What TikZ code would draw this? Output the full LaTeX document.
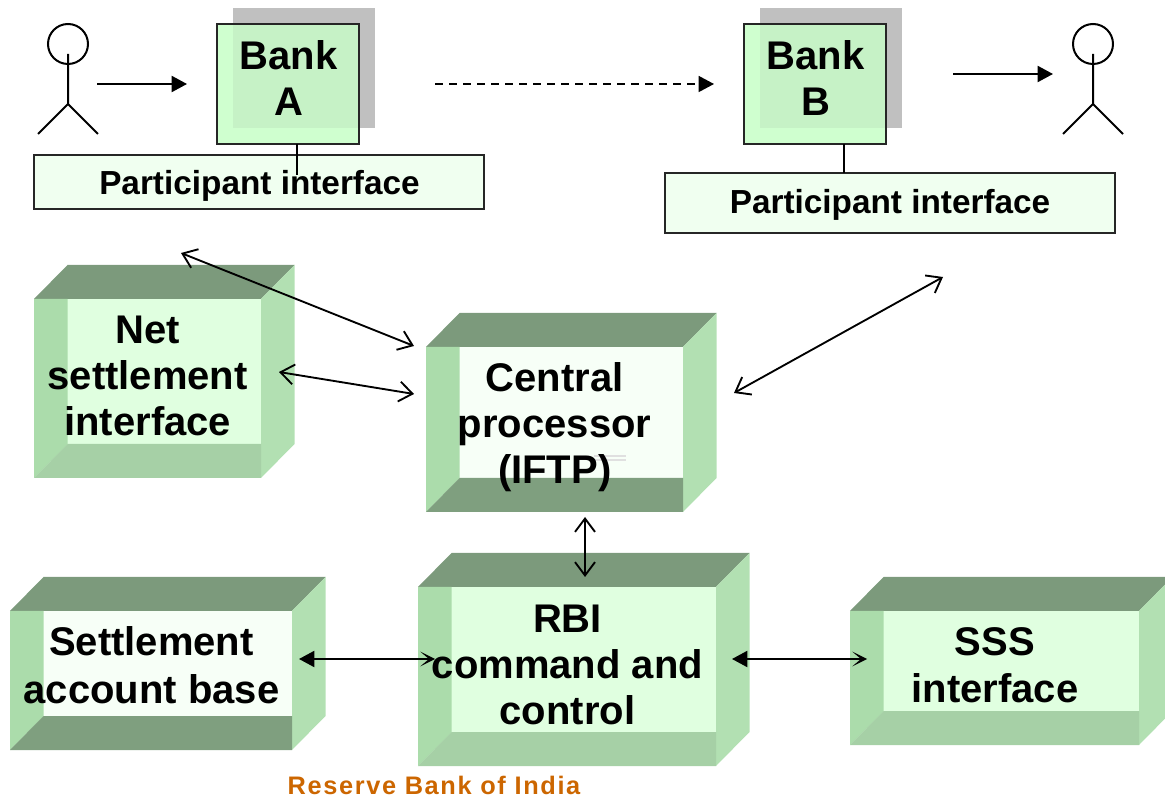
\documentclass[tikz,border=0pt]{standalone}
\usepackage{fontspec}
\setmainfont{Liberation Sans}[BoldFont={* Bold}]
\newfontface\reservefont{Liberation Sans Bold}[LetterSpace=6.5]
\usetikzlibrary{arrows.meta}
\definecolor{topface}{HTML}{7C9A7C}
\definecolor{sideface}{HTML}{B2E0B2}
\definecolor{leftface}{HTML}{ABDCAB}
\definecolor{palefront}{HTML}{F7FFF7}
\definecolor{greenfront}{HTML}{E0FFE0}
\definecolor{darkfloor}{HTML}{7F9F7F}
\definecolor{lightfloor}{HTML}{A6D0A6}
\definecolor{bankfill}{HTML}{CFFFCF}
\definecolor{bankoverlap}{HTML}{C6F2C6}
\definecolor{shadowgrey}{HTML}{C0C0C0}
\definecolor{partfill}{HTML}{F0FFF0}
\definecolor{rbiorange}{HTML}{CC6600}
\tikzset{
  bigtext/.style={font=\fontsize{30}{34.5}\selectfont\bfseries,align=center,inner sep=0pt,text=black},
  midtext/.style={font=\fontsize{25}{28}\selectfont\bfseries,align=center,inner sep=0pt,text=black},
  bankbox/.style={fill=bankfill,minimum width=106.5pt,minimum height=90pt,inner sep=0pt},
  bankoutline/.style={draw=black!85,line width=1.5pt},
  bankshadow/.style={fill=shadowgrey,minimum width=106.5pt,minimum height=90pt,inner sep=0pt},
  partbox/.style={draw=black!85,line width=1.5pt,fill=partfill,inner sep=0pt,minimum width=337.5pt},
  stick/.style={draw=black,line width=1.5pt},
  head/.style={circle,draw=black,line width=1.5pt,minimum size=30pt,inner sep=0pt},
  solidarrow/.style={draw=black,line width=1.5pt,-{Triangle[length=11.5pt,width=12pt]}},
  dasharrow/.style={draw=black,line width=1.1pt,dash pattern=on 6pt off 4.5pt,-{Triangle[length=11.5pt,width=12pt]}},
  openboth/.style={draw=black,line width=1.4pt,{Straight Barb[length=10pt,width=15pt]}-{Straight Barb[length=10pt,width=15pt]}},
  mixedboth/.style={draw=black,line width=1.5pt,{Triangle[length=11.5pt,width=12pt]}-{Stealth[length=11pt,width=11pt,inset=6.5pt]}},
}
% name, x1, y1, x2, y2, front colour, floor colour (depth 33-34 px)
\newcommand{\cuboid}[7]{%
  \fill[topface] (#2,#3) -- (#2+33.5,#3-34) -- (#4+33.5,#3-34) -- (#4,#3) -- cycle;
  \fill[#6] (#2,#3) rectangle (#4,#5);
  \fill[sideface] (#4,#3) -- (#4+33.5,#3-34) -- (#4+33.5,#5-34) -- (#4,#5) -- cycle;
  \fill[leftface] (#2,#3) -- (#2+33.5,#3) -- (#2+33.5,#5-34) -- (#2,#5) -- cycle;
  \fill[#7] (#2+33.5,#5-34) -- (#4,#5-34) -- (#4,#5) -- (#2,#5) -- cycle;
  \coordinate (#1) at ({(#2+#4)/2},{(#3+#5)/2});
}
\begin{document}
\begin{tikzpicture}[x=0.75pt,y=-0.75pt]
\useasboundingbox (0,0) rectangle (1165,798);

% Banks
\node[bankshadow] (shadowA) at (304,68) {};
\node[bankbox] (bankA) at (288,84) {};
\fill[bankoverlap] (shadowA.west |- bankA.north) rectangle (bankA.east |- shadowA.south);
\draw[bankoutline] (bankA.south west) rectangle (bankA.north east);
\node[bankshadow] (shadowB) at (831,68) {};
\node[bankbox] (bankB) at (815,84) {};
\fill[bankoverlap] (shadowB.west |- bankB.north) rectangle (bankB.east |- shadowB.south);
\draw[bankoutline] (bankB.south west) rectangle (bankB.north east);

% Participant interfaces
\node[partbox,minimum height=40.5pt] (partA) at (259,182) {};
\node[partbox,minimum height=45pt] (partB) at (890,203.5) {};
\coordinate (linkAtop) at (297,144);
\coordinate (linkAend) at (297,175);
\coordinate (linkBtop) at (844,144);
\coordinate (linkBend) at (844,173);
\draw[stick] (linkAtop) -- (linkAend);
\draw[stick] (linkBtop) -- (linkBend);
\node[bigtext] (bankAtext) at (288.7,78) {Bank\\A};
\node[bigtext] (bankBtext) at (815.7,78) {Bank\\B};
\node[midtext] (partAtext) at (259.5,185.5) {Participant interface};
\node[midtext] (partBtext) at (890,205) {Participant interface};

% People
\node[head] (headA) at (68,44) {};
\coordinate (neckA) at (68,54);
\coordinate (hipA) at (68,104);
\coordinate (lfootA) at (38,134);
\coordinate (rfootA) at (98,134);
\draw[stick] (neckA) -- (hipA) (lfootA) -- (hipA) -- (rfootA);
\node[head] (headB) at (1093,44) {};
\coordinate (neckB) at (1093,54);
\coordinate (hipB) at (1093,104);
\coordinate (lfootB) at (1063,134);
\coordinate (rfootB) at (1123,134);
\draw[stick] (neckB) -- (hipB) (lfootB) -- (hipB) -- (rfootB);

% Cuboids
\cuboid{netbox}{34}{299}{261}{478}{greenfront}{lightfloor}
\cuboid{centralbox}{426}{347}{683}{512}{palefront}{darkfloor}
\cuboid{settlebox}{10}{611}{292}{750}{palefront}{darkfloor}
\cuboid{rbibox}{418}{587}{716}{766}{greenfront}{lightfloor}
\cuboid{sssbox}{850}{611}{1139}{745}{greenfront}{lightfloor}

% faint marks on the central box
\draw[black!12,line width=1pt] (594,456) -- (626,456) (594,460) -- (626,460);

\node[bigtext] (nettext) at (147.7,376) {Net\\settlement\\interface};
\node[bigtext] (centraltext) at (554.7,427) {Central\\processor\\(IFTP)};
\node[bigtext,font=\fontsize{30}{36}\selectfont\bfseries] (settletext) at (151.5,665) {Settlement\\account base};
\node[bigtext] (rbitext) at (567.5,664.5) {RBI\\command and\\control};
\node[bigtext,font=\fontsize{30}{35.3}\selectfont\bfseries] (ssstext) at (995,665.5) {SSS\\interface};

% Connector ends
\coordinate (personAout) at (97,84);
\coordinate (bankAin) at (187,84);
\coordinate (bankAout) at (435,84);
\coordinate (bankBin) at (714,84);
\coordinate (bankBout) at (953,74);
\coordinate (personBin) at (1053,74);
\coordinate (partAdown) at (181,253);
\coordinate (centralUL) at (414,346);
\coordinate (netright) at (279,372);
\coordinate (centralL) at (414,394);
\coordinate (centralR) at (734,393);
\coordinate (partBdown) at (943,277);
\coordinate (centralS) at (585,517);
\coordinate (rbiN) at (585,577);
\coordinate (settleE) at (299,659);
\coordinate (rbiW) at (435,659);
\coordinate (rbiE) at (732,659);
\coordinate (sssW) at (867,659);

\draw[solidarrow] (personAout) -- (bankAin);
\draw[dasharrow] (bankAout) -- (bankBin);
\draw[solidarrow] (bankBout) -- (personBin);
\draw[openboth] (partAdown) -- (centralUL);
\draw[openboth] (netright) -- (centralL);
\draw[openboth] (centralR) -- (partBdown);
\draw[openboth] (centralS) -- (rbiN);
\draw[mixedboth] (settleE) -- (rbiW);
\draw[mixedboth] (rbiE) -- (sssW);

\node[inner sep=0pt,text=rbiorange,font=\reservefont\fontsize{19}{22}\selectfont] (credit) at (434,785.5) {Reserve Bank of India};
\end{tikzpicture}
\end{document}
